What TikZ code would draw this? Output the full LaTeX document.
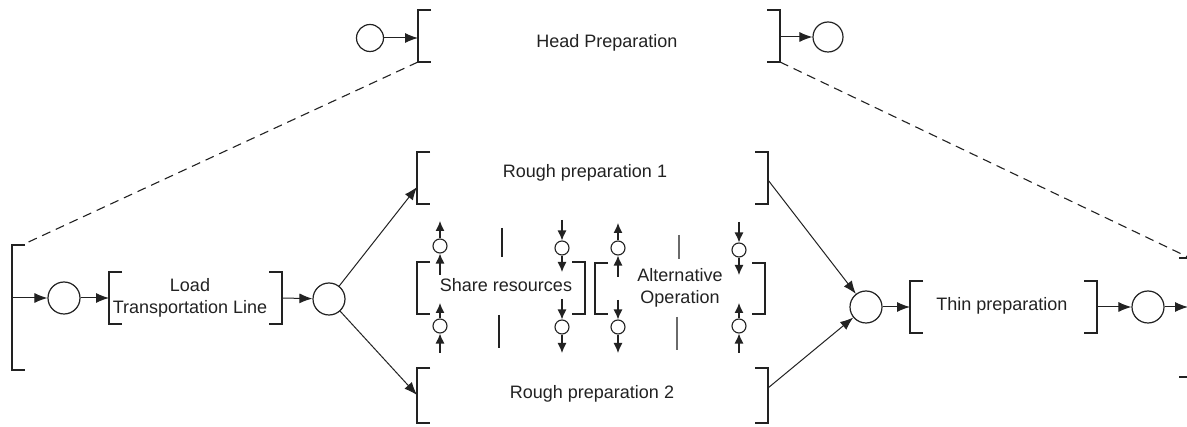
\documentclass[tikz,border=0pt]{standalone}
\usepackage{fontspec}
\setmainfont{Liberation Sans}
\usetikzlibrary{arrows.meta}
\definecolor{ink}{HTML}{222222}
\definecolor{divgray}{HTML}{6A6A6A}
\newcommand\brackpair[4]{%
  \draw[brk] (#1+13,#3) -- (#1,#3) -- (#1,#4) -- (#1+13,#4);
  \draw[brk] (#2-13,#3) -- (#2,#3) -- (#2,#4) -- (#2-13,#4);}
\tikzset{
  pl/.style={circle, draw=ink, line width=1.2pt, minimum size=32pt, inner sep=0pt},
  spl/.style={circle, draw=ink, line width=1.1pt, minimum size=14pt, inner sep=0pt},
  brk/.style={draw=ink, line width=2pt, line join=miter},
  arr/.style={draw=ink, line width=1pt, -{Latex[length=13pt,width=10pt]}},
  sarr/.style={draw=ink, line width=1.2pt, -{Latex[length=10pt,width=9pt]}},
  lbl/.style={text=ink, font=\fontsize{18}{22}\selectfont, align=center, inner sep=0pt},
  dashln/.style={draw=ink, line width=1.1pt, dash pattern=on 9pt off 6pt},
  divln/.style={draw=ink, line width=1.2pt},
  divln2/.style={draw=divgray, line width=1.2pt}
}
\begin{document}
\begin{tikzpicture}[x=1pt,y=-1pt]
\useasboundingbox (0,0) rectangle (1187,427);
\clip (0,0) rectangle (1187,427);
\fill[white] (0,0) rectangle (1187,427);

% ---- Head preparation
\brackpair{418}{780}{10}{62}
\node[lbl] (hp) at (607,43) {Head Preparation};
\coordinate (hpL) at (418,38);
\coordinate (hpR) at (780,37);
\coordinate (hpLB) at (418,62);
\coordinate (hpRB) at (780,62);
\node[pl, minimum size=27pt] (hc1) at (370,38) {};
\node[pl, minimum size=30pt] (hc2) at (828,37) {};
\draw[arr] (hc1) -- (hpL);
\draw[arr] (hpR) -- (hc2);

% ---- expanded (big) brackets
\draw[brk] (25,245) -- (12,245) -- (12,370) -- (25,370);
\draw[brk] (1179,258) -- (1192,258) -- (1192,377) -- (1179,377);
\coordinate (exTL) at (22,245);
\coordinate (exTR) at (1192,259);
\coordinate (exL) at (12,298);
\coordinate (exR) at (1188,307);
\draw[dashln] (hpLB) -- (exTL);
\draw[dashln] (hpRB) -- (exTR);

% ---- main row
\node[pl] (p1) at (64,298) {};
\brackpair{109}{282}{272}{324}
\node[lbl] (load) at (190,298) {Load\\Transportation Line};
\coordinate (loadL) at (109,298);
\coordinate (loadR) at (282,298);
\node[pl] (p2) at (329,299) {};
\draw[arr] (exL) -- (p1);
\draw[arr] (p1) -- (loadL);
\draw[arr] (loadR) -- (p2);

% ---- rough preparations
\brackpair{417}{768}{152}{204}
\node[lbl] (rp1) at (585,173) {Rough preparation 1};
\brackpair{417}{768}{368}{423}
\node[lbl] (rp2) at (592,394) {Rough preparation 2};
\coordinate (rp1L) at (417,187);
\coordinate (rp2L) at (417,395);
\coordinate (rp1R) at (768,180);
\coordinate (rp2R) at (768,388);
\draw[arr] (p2) -- (rp1L);
\draw[arr] (p2) -- (rp2L);

\node[pl] (p3) at (866,307) {};
\draw[arr] (rp1R) -- (p3);
\draw[arr] (rp2R) -- (p3);

% ---- thin preparation
\brackpair{910}{1097}{281}{333}
\node[lbl] (thin) at (1002,306) {Thin preparation};
\coordinate (thinL) at (910,307);
\coordinate (thinR) at (1097,307);
\node[pl] (p4) at (1148,307) {};
\draw[arr] (p3) -- (thinL);
\draw[arr] (thinR) -- (p4);
\draw[arr] (p4) -- (exR);

% ---- share resources / alternative operation
\brackpair{417}{585}{262}{314}
\node[lbl] (share) at (506,285) {Share resources};
\brackpair{595}{765}{263}{314}
\node[lbl] (alt) at (680,288) {Alternative\\Operation};

% column A (x=440), arrows upward
\node[spl] (a1) at (440,246) {};
\node[spl] (a2) at (440,326) {};
\coordinate (a1s) at (440,275); \coordinate (a1e) at (440,221);
\coordinate (a2s) at (440,353); \coordinate (a2e) at (440,303);
\draw[sarr] (a1s) -- (a1); \draw[sarr] (a1) -- (a1e);
\draw[sarr] (a2s) -- (a2); \draw[sarr] (a2) -- (a2e);

% column B (x=562), arrows downward
\node[spl] (b1) at (562,248) {};
\node[spl] (b2) at (562,327) {};
\coordinate (b1s) at (562,220); \coordinate (b1e) at (562,272);
\coordinate (b2s) at (562,299); \coordinate (b2e) at (562,353);
\draw[sarr] (b1s) -- (b1); \draw[sarr] (b1) -- (b1e);
\draw[sarr] (b2s) -- (b2); \draw[sarr] (b2) -- (b2e);

% column C (x=618): top upward, bottom downward
\node[spl] (c1) at (618,248) {};
\node[spl] (c2) at (618,327) {};
\coordinate (c1s) at (618,277); \coordinate (c1e) at (618,223);
\coordinate (c2s) at (618,300); \coordinate (c2e) at (618,353);
\draw[sarr] (c1s) -- (c1); \draw[sarr] (c1) -- (c1e);
\draw[sarr] (c2s) -- (c2); \draw[sarr] (c2) -- (c2e);

% column D (x=739): top downward, bottom upward
\node[spl] (d1) at (739,250) {};
\node[spl] (d2) at (739,326) {};
\coordinate (d1s) at (739,222); \coordinate (d1e) at (739,275);
\coordinate (d2s) at (739,353); \coordinate (d2e) at (739,303);
\draw[sarr] (d1s) -- (d1); \draw[sarr] (d1) -- (d1e);
\draw[sarr] (d2s) -- (d2); \draw[sarr] (d2) -- (d2e);

% dividers
\coordinate (v1a) at (502,228); \coordinate (v1b) at (502,257);
\coordinate (v2a) at (499,315); \coordinate (v2b) at (499,348);
\coordinate (v3a) at (679,235); \coordinate (v3b) at (679,259);
\coordinate (v4a) at (677,317); \coordinate (v4b) at (677,350);
\draw[divln] (v1a) -- (v1b);
\draw[divln] (v2a) -- (v2b);
\draw[divln2] (v3a) -- (v3b);
\draw[divln2] (v4a) -- (v4b);
\end{tikzpicture}
\end{document}
